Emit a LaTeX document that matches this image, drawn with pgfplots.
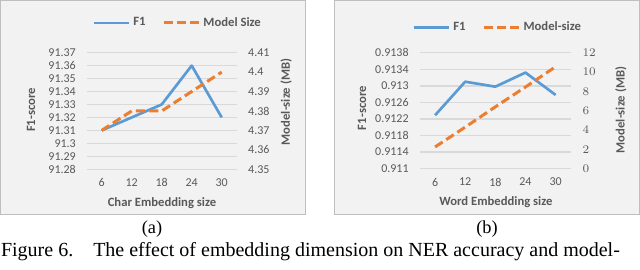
\documentclass[border=0pt]{standalone}
\usepackage{pgfplots}
\pgfplotsset{compat=1.18}
\usepackage{fontspec}
\setmainfont{Liberation Serif}
\newfontfamily\calfont{Carlito}
\definecolor{f1blue}{HTML}{5B9BD5}
\definecolor{msorange}{HTML}{ED7D31}
\definecolor{txtgray}{HTML}{595959}
\definecolor{gridgray}{HTML}{D9D9D9}
\definecolor{bggray}{HTML}{F2F2F2}
\definecolor{framegray}{HTML}{BFBFBF}
\pgfplotsset{
  base/.style={scale only axis, width=90pt, height=70pt,
    xmin=-0.5, xmax=4.5, xtick={0,1,2,3,4}, xticklabels={6,12,18,24,30},
    axis line style={draw=none}, major tick length=0pt,
    tick label style={font=\fontsize{7.2}{8}\selectfont\calfont, text=txtgray},
    x tick label style={yshift=-2pt},
    label style={font=\fontsize{7.6}{9}\selectfont\calfont\bfseries, text=txtgray},
    clip=false},
  f1/.style={f1blue, line width=1.6pt, line join=round, no markers},
  ms/.style={msorange, line width=1.8pt, dash pattern=on 5.4pt off 2.6pt, no markers},
  leg/.style={legend columns=2,
    legend style={draw=none, fill=none, font=\fontsize{7.6}{9}\selectfont\calfont\bfseries, text=txtgray,
      anchor=center, /tikz/every even column/.append style={column sep=8pt}},
    legend image code/.code={\draw[##1] (0pt,0pt) -- (21pt,0pt);}},
}
\begin{document}
\begin{tikzpicture}[x=0.6pt,y=0.6pt]
\path (0,0) rectangle (640,269);
\draw[framegray, fill=bggray, line width=0.6pt] (0.5,55) rectangle (305,268.5);
\draw[framegray, fill=bggray, line width=0.6pt] (334.5,55) rectangle (639.5,268.5);
\coordinate (PA) at (86.7,99.7);
\coordinate (PB) at (420,100.3);
% ---- (a) left axis
\begin{axis}[base, at={(PA)}, anchor=south west,
  ymin=91.28, ymax=91.37,
  ytick={91.28,91.29,91.30,91.31,91.32,91.33,91.34,91.35,91.36,91.37},
  yticklabels={91.28,91.29,91.3,91.31,91.32,91.33,91.34,91.35,91.36,91.37},
  y tick label style={xshift=-3pt},
  ymajorgrids, grid style={gridgray, line width=0.8pt},
  ylabel={F1-score}, xlabel={Char Embedding size},
  ylabel style={at={(axis description cs:-0.371,0.509)}, anchor=center},
  xlabel style={at={(axis description cs:0.502,-0.289)}, anchor=center}]
\addplot[f1] coordinates {(0,91.31) (1,91.32) (2,91.33) (3,91.36) (4,91.32)};
\end{axis}
% ---- (a) right axis
\begin{axis}[base, at={(PA)}, anchor=south west, leg,
  hide x axis, axis y line*=right,
  ymin=4.35, ymax=4.41,
  ytick={4.35,4.36,4.37,4.38,4.39,4.40,4.41},
  yticklabels={4.35,4.36,4.37,4.38,4.39,4.4,4.41},
  y tick label style={xshift=3.4pt},
  ylabel={Model-size (MB)},
  ylabel style={at={(axis description cs:1.329,0.577)}, anchor=center},
  legend style={at={(axis description cs:0.61,1.255)}}]
\addlegendimage{f1}\addlegendentry{F1}
\addplot[ms] coordinates {(0,4.37) (1,4.38) (2,4.38) (3,4.39) (4,4.40)};
\addlegendentry{Model Size}
\end{axis}
% ---- (b) left axis
\begin{axis}[base, at={(PB)}, anchor=south west, width=90.4pt, height=69.6pt,
  ymin=0.911, ymax=0.9138,
  ytick={0.911,0.9114,0.9118,0.9122,0.9126,0.913,0.9134,0.9138},
  yticklabels={0.911,0.9114,0.9118,0.9122,0.9126,0.913,0.9134,0.9138},
  y tick label style={xshift=-3.3pt},
  ymajorgrids, grid style={gridgray, line width=0.8pt},
  ylabel={F1-score}, xlabel={Word Embedding size},
  ylabel style={at={(axis description cs:-0.385,0.523)}, anchor=center},
  xlabel style={at={(axis description cs:0.504,-0.29)}, anchor=center}]
\addplot[f1] coordinates {(0,0.91229) (1,0.91310) (2,0.91298) (3,0.91332) (4,0.91278)};
\end{axis}
% ---- (b) right axis
\begin{axis}[base, at={(PB)}, anchor=south west, width=90.4pt, height=69.6pt, leg,
  hide x axis, axis y line*=right,
  ymin=0, ymax=12,
  ytick={0,2,4,6,8,10,12},
  y tick label style={xshift=3.6pt},
  ylabel={Model-size (MB)},
  ylabel style={at={(axis description cs:1.334,0.506)}, anchor=center},
  legend style={at={(axis description cs:0.52,1.22)}}]
\addlegendimage{f1}\addlegendentry{F1}
\addplot[ms] coordinates {(0,2.25) (1,4.3) (2,6.4) (3,8.45) (4,10.55)};
\addlegendentry{Model-size}
\end{axis}
\node[font=\fontsize{11}{13}\selectfont] at (152,40) {(a)};
\node[font=\fontsize{11}{13}\selectfont] at (487,40) {(b)};
\node[font=\fontsize{12}{14}\selectfont, anchor=west, inner sep=0pt] at (0.7,17) {Figure 6.\hspace{12pt}The effect of embedding dimension on NER accuracy and model-};
\end{tikzpicture}
\end{document}
